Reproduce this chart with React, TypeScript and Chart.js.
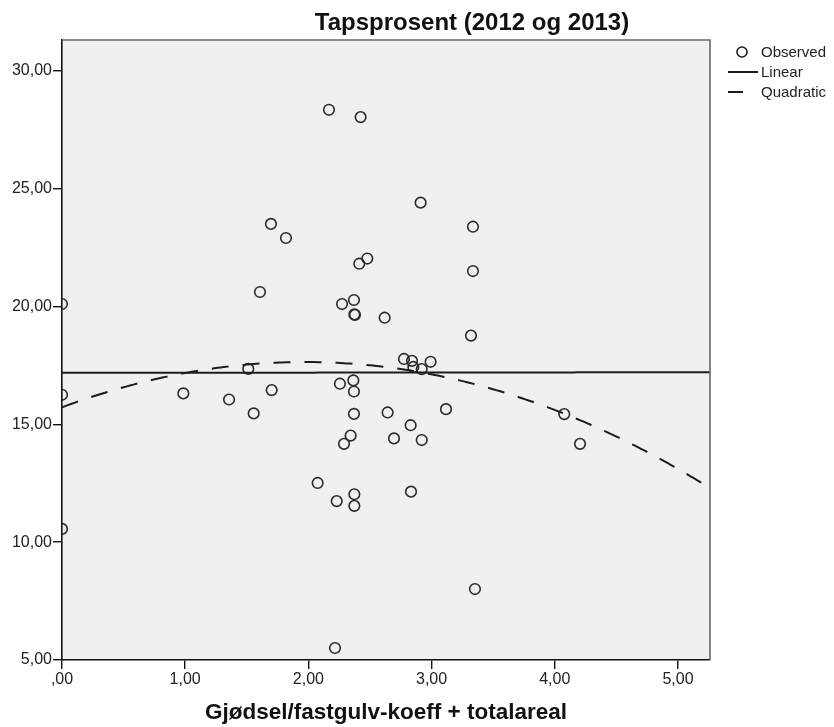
import React, { useEffect, useRef } from "react";
import { Chart, registerables } from "chart.js";

Chart.register(...registerables);

// Observed values: Gjødsel/fastgulv-koeff + totalareal (x) against Tapsprosent (y)
const koeff = [
  0, 0, 0, 0.985, 1.356, 1.512, 1.556, 1.607, 1.702, 1.696,
  1.818, 2.075, 2.167, 2.216, 2.23, 2.256, 2.273, 2.289, 2.343, 2.365,
  2.37, 2.373, 2.378, 2.37, 2.37, 2.373, 2.373, 2.413, 2.424, 2.478,
  2.619, 2.643, 2.695, 2.776, 2.83, 2.833, 2.841, 2.852, 2.911, 2.92,
  2.92, 2.992, 3.117, 3.32, 3.336, 3.336, 3.352, 4.077, 4.205,
];
const tapsprosent = [
  20.1, 16.25, 10.56, 16.31, 16.05, 17.35, 15.46, 20.61, 16.45, 23.5,
  22.9, 12.51, 28.34, 5.51, 11.74, 16.72, 20.1, 14.17, 14.52, 16.86,
  20.27, 19.66, 19.64, 16.39, 15.44, 12.03, 11.54, 21.81, 28.03, 22.03,
  19.52, 15.5, 14.4, 17.77, 14.96, 12.14, 17.69, 17.43, 24.4, 17.34,
  14.33, 17.65, 15.64, 18.76, 23.38, 21.5, 8.01, 15.43, 14.17,
];

// Fitted curve coefficients (constant, x, x²)
const linearFit = [17.18, 0.005];
const quadraticFit = [15.72, 1.949, -0.4944];

const xTicks = [0, 1, 2, 3, 4, 5];
const yTicks = [5, 10, 15, 20, 25, 30];
const xRange = [0, 5.26];
const yRange = [5, 31.3];

const seriesLabels = ["Observed", "Linear", "Quadratic"];
const chartTitle = "Tapsprosent (2012 og 2013)";
const xTitle = "Gjødsel/fastgulv-koeff + totalareal";

const FONT = "'Liberation Sans', Arial, sans-serif";
const INK = "#1c1c1c";

const fmt = (v: number) => {
  const s = v.toFixed(2).replace(".", ",");
  return s.startsWith("0,") ? s.slice(1) : s;
};

// Evaluate a polynomial fit along the x axis
function fitCurve(coef: number[]) {
  const pts: { x: number; y: number }[] = [];
  const n = 200;
  for (let i = 0; i <= n; i++) {
    const x = xRange[0] + ((xRange[1] - xRange[0]) * i) / n;
    let y = 0;
    coef.forEach((c, k) => (y += c * Math.pow(x, k)));
    pts.push({ x, y });
  }
  return pts;
}

const framePlugin = {
  id: "plotFrame",
  beforeDraw(chart: any) {
    const { ctx, chartArea: a } = chart;
    ctx.save();
    ctx.fillStyle = "#f0f0f0";
    ctx.fillRect(a.left, a.top, a.right - a.left, a.bottom - a.top);
    ctx.restore();
  },
  afterDraw(chart: any) {
    const { ctx, chartArea: a } = chart;
    ctx.save();
    ctx.strokeStyle = "#6a6a6a";
    ctx.lineWidth = 1.6;
    ctx.beginPath();
    ctx.moveTo(a.left, a.top);
    ctx.lineTo(a.right, a.top);
    ctx.lineTo(a.right, a.bottom);
    ctx.stroke();

    // chart title and x-axis title
    ctx.fillStyle = "#111";
    ctx.textBaseline = "alphabetic";
    ctx.textAlign = "center";
    ctx.font = `bold 24px ${FONT}`;
    ctx.fillText(chartTitle, 472, 30);
    ctx.font = `bold 22.5px ${FONT}`;
    ctx.fillText(xTitle, (a.left + a.right) / 2, 719);

    // legend
    const ds = chart.data.datasets;
    ctx.font = `15px ${FONT}`;
    ctx.textAlign = "left";
    ctx.textBaseline = "middle";
    ctx.fillStyle = "#222";
    const textX = 761;
    const rowY = [52, 72, 92];
    ds.forEach((d: any, i: number) => {
      const y = rowY[i];
      ctx.save();
      ctx.strokeStyle = INK;
      if (i === 0) {
        ctx.lineWidth = 1.6;
        ctx.beginPath();
        ctx.arc(742, y, 5, 0, Math.PI * 2);
        ctx.stroke();
      } else if (i === 1) {
        ctx.lineWidth = 2;
        ctx.beginPath();
        ctx.moveTo(728, y);
        ctx.lineTo(758, y);
        ctx.stroke();
      } else {
        ctx.lineWidth = 2;
        ctx.beginPath();
        ctx.moveTo(728, y);
        ctx.lineTo(743, y);
        ctx.stroke();
      }
      ctx.restore();
      ctx.fillText(d.label, textX, y + 1);
    });
    ctx.restore();
  },
};

export default function App() {
  const ref = useRef<HTMLCanvasElement>(null);

  useEffect(() => {
    const canvas = ref.current;
    if (!canvas) return;
    const chart = new Chart(canvas, {
      type: "scatter",
      data: {
        datasets: [
          {
            label: seriesLabels[0],
            data: koeff.map((x, i) => ({ x, y: tapsprosent[i] })),
            pointStyle: "circle",
            pointRadius: 5.3,
            pointBorderWidth: 1.6,
            pointBorderColor: "#2a2a2a",
            pointBackgroundColor: "rgba(0,0,0,0)",
            showLine: false,
            clip: 0,
            order: 2,
          } as any,
          {
            label: seriesLabels[1],
            data: fitCurve(linearFit),
            showLine: true,
            borderColor: INK,
            borderWidth: 2,
            pointRadius: 0,
            tension: 0,
            clip: 0,
            order: 1,
          } as any,
          {
            label: seriesLabels[2],
            data: fitCurve(quadraticFit),
            showLine: true,
            borderColor: INK,
            borderWidth: 2,
            borderDash: [17, 14],
            pointRadius: 0,
            tension: 0,
            clip: 0,
            order: 1,
          } as any,
        ],
      },
      options: {
        responsive: false,
        animation: false,
        events: [],
        layout: { padding: { top: 40, right: 124, left: 0, bottom: 0 } },
        plugins: {
          legend: { display: false },
          title: { display: false },
          tooltip: { enabled: false },
        },
        scales: {
          x: {
            type: "linear",
            min: xRange[0],
            max: xRange[1],
            afterBuildTicks: (s: any) => {
              s.ticks = xTicks.map((value) => ({ value }));
            },
            afterFit: (s: any) => {
              s.height = 67;
            },
            ticks: {
              callback: (v: any) => fmt(Number(v)),
              font: { family: FONT, size: 16 },
              color: "#222",
              padding: 1,
              maxRotation: 0,
              autoSkip: false,
            },
            grid: {
              display: true,
              drawOnChartArea: false,
              drawTicks: true,
              tickLength: 9,
              color: "#111",
              lineWidth: 1.4,
            },
            border: { display: true, color: "#111", width: 1.6 },
          },
          y: {
            type: "linear",
            min: yRange[0],
            max: yRange[1],
            afterBuildTicks: (s: any) => {
              s.ticks = yTicks.map((value) => ({ value }));
            },
            afterFit: (s: any) => {
              s.width = 62;
            },
            ticks: {
              callback: (v: any) => fmt(Number(v)),
              font: { family: FONT, size: 16 },
              color: "#222",
              padding: 1,
              autoSkip: false,
            },
            grid: {
              display: true,
              drawOnChartArea: false,
              drawTicks: true,
              tickLength: 9,
              color: "#111",
              lineWidth: 1.4,
            },
            border: { display: true, color: "#111", width: 1.6 },
          },
        },
      },
      plugins: [framePlugin],
    });
    return () => chart.destroy();
  }, []);

  return (
    <div style={{ position: "absolute", left: 0, top: 0, width: 834, height: 727, background: "#fff" }}>
      <canvas ref={ref} width={834} height={727} style={{ display: "block" }} />
    </div>
  );
}
